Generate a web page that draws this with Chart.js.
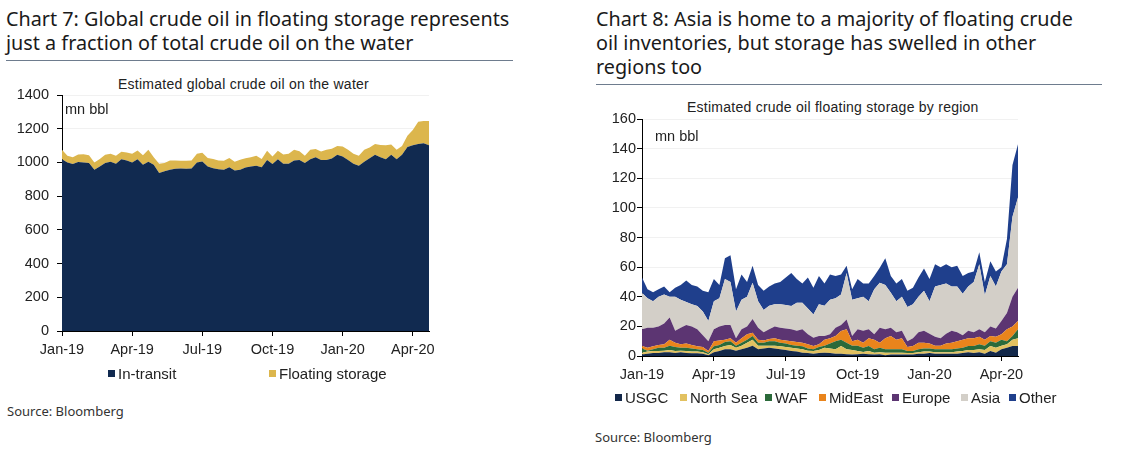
<!DOCTYPE html>
<html>
<head>
<meta charset="utf-8">
<script src="https://cdn.jsdelivr.net/npm/chart.js@4"></script>
<style>
  body { margin: 0; width: 1123px; height: 455px; background: #fff; position: relative; overflow: hidden; }
  .title { position: absolute; font-family: "Noto Sans", sans-serif; font-size: 19.8px; line-height: 24px; color: #1a1a1a; border-bottom: 1px solid #6e7c8e; padding-bottom: 5px; white-space: nowrap; }
  .sub { position: absolute; font-family: "Liberation Sans", Arial, sans-serif; font-size: 14px; letter-spacing: 0.25px; color: #222; white-space: nowrap; }
  .unit { position: absolute; font-family: "Liberation Sans", Arial, sans-serif; font-size: 14.5px; color: #222; }
  .legend { position: absolute; font-family: "Liberation Sans", Arial, sans-serif; font-size: 15px; color: #222; white-space: nowrap; }
  .legend span.sw { display: inline-block; width: 7px; height: 7px; margin-right: 3px; vertical-align: 2px; }
  .legend span.it { position: absolute; }
  .source { position: absolute; font-family: "Noto Sans", sans-serif; font-size: 13px; color: #333; }
  canvas { position: absolute; }
</style>
</head>
<body>
<div class="title" style="left:6px; top:7px; width:507px;">Chart 7: Global crude oil in floating storage represents<br>just a fraction of total crude oil on the water</div>
<div class="title" style="left:596px; top:7px; width:506px;">Chart 8: Asia is home to a majority of floating crude<br>oil inventories, but storage has swelled in other<br>regions too</div>

<div class="sub" style="left:118px; top:76px;">Estimated global crude oil on the water</div>
<div class="sub" style="left:687px; top:99px;">Estimated crude oil floating storage by region</div>

<canvas id="chart7" width="450" height="300" style="left:0px; top:72px; width:450px; height:300px;"></canvas>
<canvas id="chart8" width="460" height="301" style="left:580px; top:96px; width:460px; height:301px;"></canvas>

<div class="unit" style="left:65px; top:101px;">mn bbl</div>
<div class="unit" style="left:655px; top:128px;">mn bbl</div>

<div class="legend" id="legend7" style="left:0; top:365px;"></div>
<div class="legend" id="legend8" style="left:0; top:389px;"></div>

<div class="source" style="left:7px; top:402px;">Source: Bloomberg</div>
<div class="source" style="left:595px; top:428px;">Source: Bloomberg</div>

<script>
// weekly observations, Jan-19 .. late Apr-20
const weeks = [];
for (let i = 0; i < 69; i++) {
  const d = new Date(Date.UTC(2019, 0, 1 + i * 7));
  weeks.push(d.toISOString().slice(0, 10));
}
const tickIndex = [0, 13, 26, 39, 52, 65];
const tickLabels = ["Jan-19", "Apr-19", "Jul-19", "Oct-19", "Jan-20", "Apr-20"];

// Chart 7 (mn bbl)
const inTransit = [1019,1000,990,1002,1000,996,956,976,996,1004,992,1019,1012,1000,1019,986,1004,986,937,947,956,962,964,962,964,1000,1006,976,966,960,956,972,952,956,970,976,980,972,1015,990,1019,992,992,1012,1015,996,1019,1031,1015,1015,1023,1045,1035,1015,992,980,1004,1025,1045,1031,1019,1045,1019,1045,1091,1102,1110,1114,1102];
const floatingStorage = [56,39,41,45,49,47,44,44,49,47,47,44,47,51,52,57,71,45,55,49,56,50,46,48,48,51,51,51,54,52,54,55,52,60,55,55,59,48,54,45,50,55,59,63,52,43,56,48,50,60,58,53,59,60,59,59,71,63,65,73,83,61,56,53,67,91,132,132,144];

// Chart 8 (mn bbl)
const usgc = [1,1.5,2,2,2.5,2.5,2,2.5,2,1.8,1.8,1.5,0.5,2.5,3.4,4.5,4.5,3.5,4.5,5.6,7,4.5,5,5.6,5,4.5,4,3.4,3,2.2,2,1.5,2,2.2,2,1.5,1.5,1.2,1,1.2,1.5,1.2,1,1.2,0.5,1,1,1,1,1,1.5,1.5,2,1.5,1.5,1.5,1.5,1.5,2,2.5,2,2.5,1.5,3.4,2.2,4.5,5.6,6.7,6.7];
const northSea = [1.2,1.5,1.4,1.4,1,1.5,1.4,1,1.4,1.2,1.2,1,0.7,2,2.2,2.2,3,2,2.5,3.4,4,2.5,2,1.4,2,2,2,2.2,2,2.3,1.5,1.9,2,3.4,3,3,5.2,3.3,3,2.2,1.2,2.2,1.2,1.3,1.7,1.2,1.2,1.2,1,1,1,1.5,1,1,1,1,1,1.5,1.4,1.5,2,2,2.5,3.3,3.4,2.5,2.4,4.3,5.3];
const waf = [2.8,0.5,1.1,2.2,2,3,2.6,2.1,2.1,2,1.5,1.5,1,2,1.9,2.7,2.5,1.5,2,2,2.5,2,2,3,3,2.5,2.5,1.9,2,2,1.5,1.1,2,1.4,3.5,5.5,4.3,4.5,3,3.6,2.9,3.3,2.3,3.1,2.3,2.3,2.3,2.3,1.4,1.4,2,2,2,2,2,2,2,2,2.2,2.7,2.7,3.5,3,3.3,3.4,4,2,2.5,6];
const midEast = [1.7,2,2,1.9,2.5,4,3,2.4,3,2.5,2,2,1.2,3.5,3,1.6,2,2,3,3.6,2.2,2,1.5,1.5,2,2,2,2.5,2.5,2.5,3,2.2,2,4,3.5,3.5,5.8,9,3,4,3.4,5.3,6.5,3.4,7.5,9,6.5,7.5,2.6,3.3,4.5,4,3.5,2.5,2.5,4,4.5,5,5.4,5.3,5.3,5,4,3.5,4,3.6,8,6.5,5.6];
const europe = [11.3,13.5,12.5,12.5,14,15,8,11,12.5,12.5,11.5,8,6.6,8,9.5,10,9,3,6,5.4,9.3,8,5.5,6.5,8,8,8,8,7.5,9,6.6,5.7,5.5,2.5,2.6,5.5,4.2,6.7,3.5,7,8,6,3.6,10,6,5.5,5,5,4,5.3,7,8,6.5,6,5,6.5,8,6,3,5,4,5,5,6.5,5.5,9,11,20,22.4];
const asia = [24.6,20,18,20,19.5,14,23,19,15.5,15,15.7,16,13.6,19,19,31,29,18,20,20,24.5,18,15,16,15,16,16,15.7,19,18,17.4,15.6,21.5,20.5,23.4,20,20.5,31.3,24.5,21,23,19,30.4,30.5,30,23.7,21,23,23,23,24,27,22,34,36,34,30,31,28,30,34,44,25,34,28.5,33.4,33,54,61];
const other = [10.4,6,6,5,5.5,3,6,10,14.5,13,13.3,14,19.4,15,9,14,18,15,17,10,11.5,11,13,13,14,15,18.5,22.3,16,13,21,18,19,15,17,15,13.5,5,7,13,9,12,9,10,18,11.3,12,12,11,11,13,15,15,15,12,13,13,14,12,9,7,8,9,10,10,3,17,35,36];

const tickFont = { family: "'Liberation Sans', Arial, sans-serif", size: 14.5 };

function xAxis() {
  return {
    type: "category",
    offset: false,
    afterFit: (s) => { s.height = 30; },
    border: { display: true, color: "#000", width: 1 },
    grid: { display: true, drawOnChartArea: false, drawTicks: true, tickLength: 5, tickColor: "#000" },
    ticks: {
      autoSkip: false,
      maxRotation: 0,
      padding: 5,
      color: "#222",
      font: tickFont,
      callback: function (val, idx) {
        const k = tickIndex.indexOf(idx);
        return k >= 0 ? tickLabels[k] : null;
      },
    },
  };
}

function yAxis(max, step, pad) {
  return {
    stacked: true,
    min: 0,
    max: max,
    afterFit: (s) => { s.width = 62; },
    border: { display: true, color: "#000", width: 1 },
    grid: { color: "#f1f1f1", drawTicks: true, tickLength: 5, tickColor: "#000" },
    ticks: {
      stepSize: step,
      padding: pad,
      color: "#222",
      font: tickFont,
      callback: (v) => String(v),
    },
  };
}

function area(label, data, color, first) {
  return {
    label: label,
    data: data,
    backgroundColor: color,
    borderColor: color,
    borderWidth: 0,
    pointRadius: 0,
    tension: 0,
    fill: first ? "origin" : "-1",
  };
}

function baseOptions(max, step, pad) {
  return {
    responsive: false,
    animation: false,
    devicePixelRatio: 1,
    layout: { padding: { top: 23, right: 21, bottom: 11, left: 0 } },
    plugins: { legend: { display: false }, tooltip: { enabled: false } },
    scales: {
      x: xAxis(),
      y: yAxis(max, step, pad),
    },
  };
}

// Chart 7
const series7 = [
  { label: "In-transit", data: inTransit, color: "#112a50" },
  { label: "Floating storage", data: floatingStorage, color: "#dcb64d" },
];
new Chart(document.getElementById("chart7"), {
  type: "line",
  data: {
    labels: weeks,
    datasets: series7.map((s, i) => area(s.label, s.data, s.color, i === 0)),
  },
  options: baseOptions(1400, 200, 8),
});

// Chart 8
const series8 = [
  { label: "USGC", data: usgc, color: "#13284a" },
  { label: "North Sea", data: northSea, color: "#e2c160" },
  { label: "WAF", data: waf, color: "#2b6a3a" },
  { label: "MidEast", data: midEast, color: "#e9841c" },
  { label: "Europe", data: europe, color: "#5c3572" },
  { label: "Asia", data: asia, color: "#d3cfc8" },
  { label: "Other", data: other, color: "#1f3f8c" },
];
const opts8 = baseOptions(160, 20, 1);
opts8.layout.padding.right = 22;
new Chart(document.getElementById("chart8"), {
  type: "line",
  data: {
    labels: weeks,
    datasets: series8.map((s, i) => area(s.label, s.data, s.color, i === 0)),
  },
  options: opts8,
});

// legends
function buildLegend(el, items, xs) {
  items.forEach((s, i) => {
    const it = document.createElement("span");
    it.className = "it";
    it.style.left = xs[i] + "px";
    it.innerHTML = '<span class="sw" style="background:' + s.color + '"></span>' + s.label;
    el.appendChild(it);
  });
}
buildLegend(document.getElementById("legend7"), series7, [108, 269]);
buildLegend(document.getElementById("legend8"), series8, [615, 680, 765, 819, 892, 961, 1009]);
</script>
</body>
</html>
